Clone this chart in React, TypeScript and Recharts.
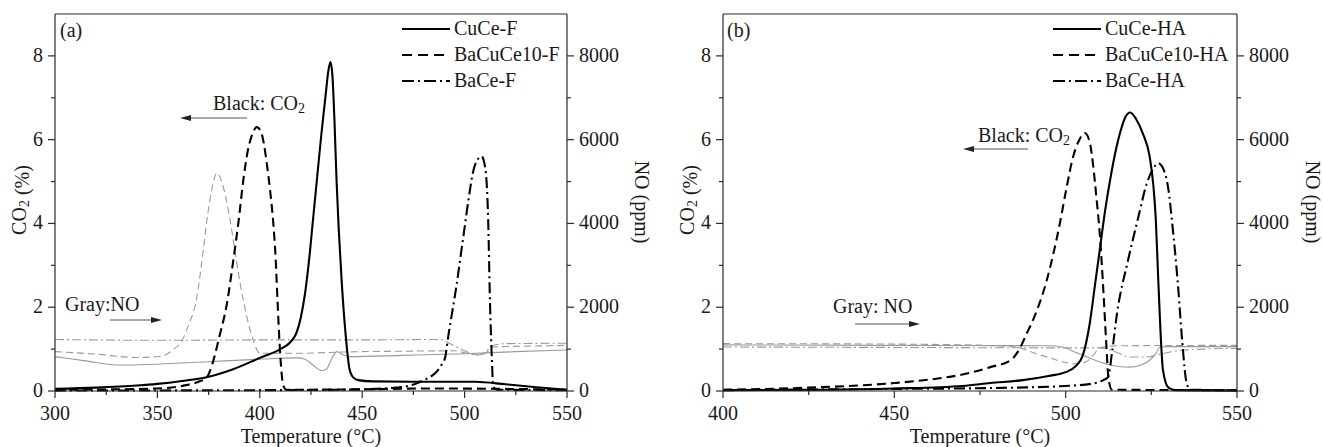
import React from "react";
import { LineChart, Line, XAxis, YAxis, ReferenceLine } from "recharts";

const FONT = '"Liberation Serif", "Times New Roman", serif';
const AXIS = "#2a2a2a";
const INK = "#1a1a1a";
const GRAY = "#9a9a9a";

// ticks
const tempTicksA = [300, 325, 350, 375, 400, 425, 450, 475, 500, 525, 550];
const tempLabelsA = [300, 350, 400, 450, 500, 550];
const tempTicksB = [400, 425, 450, 475, 500, 525, 550];
const tempLabelsB = [400, 450, 500, 550];
const co2Ticks = [0, 1, 2, 3, 4, 5, 6, 7, 8];
const co2Labels = [0, 2, 4, 6, 8];
const noTicks = [0, 1000, 2000, 3000, 4000, 5000, 6000, 7000, 8000];
const noLabels = [0, 2000, 4000, 6000, 8000];

const legendA = ["CuCe-F", "BaCuCe10-F", "BaCe-F"];
const legendB = ["CuCe-HA", "BaCuCe10-HA", "BaCe-HA"];

// (a) CO2 %, [temperature, value]
const cuceF_co2 = [[300,0.05],[320,0.08],[340,0.13],[350,0.17],[362,0.24],[374,0.33],[387,0.52],[400,0.79],[410,1.0],[415,1.17],[418,1.4],[420,1.75],[422,2.3],[424,3.1],[426,4.1],[428,5.1],[430,6.1],[432,7.0],[433.5,7.65],[434.5,7.85],[435.5,7.5],[436.5,6.4],[437.5,5.0],[438.5,3.9],[440,2.6],[442,1.3],[443.7,0.55],[445.5,0.33],[448,0.26],[455,0.23],[480,0.22],[505,0.22],[520,0.16],[535,0.09],[550,0.03]];
const bacuce10F_co2 = [[300,0.03],[330,0.04],[350,0.06],[364,0.14],[370,0.22],[374,0.32],[377,0.67],[380,1.25],[384,2.1],[387,3.1],[389.5,4.0],[392,5.05],[394,5.7],[396.5,6.15],[398.5,6.3],[400.5,6.2],[402,5.9],[403.5,5.4],[405,4.8],[406.6,4.0],[407.7,3.2],[408.7,2.1],[409.7,1.1],[410.6,0.45],[411.5,0.12],[413,0.03],[450,0.04],[480,0.06],[520,0.05],[550,0.03]];
const baceF_co2 = [[300,0.01],[400,0.02],[440,0.03],[460,0.06],[470,0.1],[476,0.17],[480,0.26],[484,0.36],[487,0.5],[489,0.65],[490.5,0.8],[492,1.3],[494,1.9],[496,2.5],[498,3.2],[500,3.9],[502,4.6],[504,5.2],[506,5.5],[508.3,5.6],[510,5.35],[511.5,4.1],[512.4,2.1],[513.3,0.8],[514,0.1],[516,0.03],[550,0.02]];

// (a) NO ppm
const cuceF_no = [[300,820],[315,720],[330,620],[350,640],[375,700],[400,760],[418,790],[422,760],[426,620],[430,490],[432.5,520],[435,760],[437.7,940],[440,880],[444,820],[470,850],[500,890],[525,940],[550,980]];
const bacuce10F_no = [[300,940],[320,880],[340,800],[352,830],[358,1000],[362,1200],[365,1550],[369,2170],[372,3200],[374.5,4200],[377,4900],[379,5200],[381,5050],[383.5,4600],[385.5,4080],[388,3300],[390.7,2490],[394,1700],[397,1180],[400,900],[420,900],[440,930],[470,950],[495,960],[502,890],[507,860],[511,930],[514,1050],[530,1070],[550,1090]];
const baceF_no = [[300,1230],[350,1210],[400,1220],[450,1220],[488,1230],[494,1100],[500,960],[506,860],[510,900],[513,1080],[520,1130],[550,1140]];

// (b) CO2 %
const cuceHA_co2 = [[400,0.02],[430,0.03],[450,0.06],[470,0.12],[478,0.19],[487.5,0.26],[495,0.36],[500,0.45],[503,0.6],[505,0.85],[507,1.6],[508.5,2.5],[510,3.4],[511.5,4.3],[513,5.05],[514.5,5.7],[516,6.2],[517.5,6.55],[518.8,6.65],[520.5,6.5],[522.5,6.15],[524.5,5.6],[525.6,4.9],[526.3,4.1],[527,2.7],[528.4,0.5],[530,0.08],[532,0.02],[550,0.01]];
const bacuce10HA_co2 = [[400,0.03],[425,0.08],[450,0.19],[460,0.27],[469,0.38],[478,0.57],[484,0.74],[486.7,1.03],[488.5,1.35],[490.5,1.7],[494.5,2.65],[498.3,4.0],[500.3,4.87],[502.2,5.6],[504,6.0],[505.6,6.16],[507,5.95],[508,5.4],[509,4.6],[510,3.7],[511,2.4],[511.8,1.2],[512.5,0.3],[513.5,0.03],[550,0.02]];
const baceHA_co2 = [[400,0.02],[450,0.05],[478,0.07],[500,0.12],[508,0.18],[511,0.26],[512.4,0.33],[513.5,0.9],[515,1.86],[518,3.05],[521,4.08],[523.7,4.96],[525.5,5.3],[527,5.44],[528.5,5.3],[530,4.8],[531,4.08],[532.8,2.5],[534,1.2],[535.3,0.19],[536.5,0.03],[550,0.02]];

// (b) NO ppm
const cuceHA_no = [[400,1100],[450,1090],[495,1080],[499,1050],[503,920],[507,790],[510,690],[513,620],[516,580],[519,570],[522,620],[524.6,740],[526.5,920],[527.5,1050],[530,1060],[550,1060]];
const bacuce10HA_no = [[400,1130],[450,1120],[480,1080],[486.7,1030],[491,900],[495.4,790],[499,700],[503,650],[506,700],[508,850],[510,1030],[515,1080],[550,1090]];
const baceHA_no = [[400,1050],[450,1040],[500,1030],[510,1030],[514,950],[519,810],[524,810],[527,870],[530.5,930],[540,1000],[550,1020]];

const blackDash = [undefined, "9 5", "11 4 2 4"];
const grayDash = [undefined, "7 4", "9 3 2 3"];

const toPts = (arr: number[][]) => arr.map(([t, v]) => ({ t, v }));

function makeTick(side: "bottom" | "left" | "right", labels: number[]) {
  return (props: any) => {
    const { x, y, payload } = props;
    const v = payload.value;
    const major = labels.includes(v);
    const len = major ? 7 : 4;
    const txt = { fontSize: 20, fontFamily: FONT, fill: INK };
    if (side === "bottom") {
      return (
        <g>
          <line x1={x} x2={x} y1={y} y2={y + len} stroke={AXIS} strokeWidth={1.2} />
          {major && <text x={x} y={y + 29} textAnchor="middle" {...txt}>{v}</text>}
        </g>
      );
    }
    const dir = side === "left" ? -1 : 1;
    return (
      <g>
        <line x1={x} x2={x + dir * len} y1={y} y2={y} stroke={AXIS} strokeWidth={1.2} />
        {major && (
          <text x={x + dir * 12} y={y + 6} textAnchor={side === "left" ? "end" : "start"} {...txt}>
            {v}
          </text>
        )}
      </g>
    );
  };
}

type PanelProps = {
  left: number;
  width: number;
  margin: { top: number; right: number; bottom: number; left: number };
  domain: [number, number];
  ticks: number[];
  labels: number[];
  co2: number[][][];
  no: number[][][];
};

function Panel({ left, width, margin, domain, ticks, labels, co2, no }: PanelProps) {
  return (
    <div style={{ position: "absolute", left, top: 0 }}>
      <LineChart width={width} height={447} margin={margin}>
        <XAxis
          dataKey="t"
          type="number"
          domain={domain}
          ticks={ticks}
          interval={0}
          height={30}
          tickSize={0}
          tickMargin={0}
          tickLine={false}
          axisLine={{ stroke: AXIS, strokeWidth: 1.2 }}
          tick={makeTick("bottom", labels)}
        />
        <YAxis
          yAxisId="co2"
          domain={[0, 9]}
          ticks={co2Ticks}
          interval={0}
          width={40}
          tickSize={0}
          tickMargin={0}
          tickLine={false}
          axisLine={{ stroke: AXIS, strokeWidth: 1.2 }}
          tick={makeTick("left", co2Labels)}
        />
        <YAxis
          yAxisId="no"
          orientation="right"
          domain={[0, 9000]}
          ticks={noTicks}
          interval={0}
          width={60}
          tickSize={0}
          tickMargin={0}
          tickLine={false}
          axisLine={{ stroke: AXIS, strokeWidth: 1.2 }}
          tick={makeTick("right", noLabels)}
        />
        <ReferenceLine y={9} yAxisId="co2" stroke={AXIS} strokeWidth={1.2} />
        {no.map((s, i) => (
          <Line
            key={`no-${i}`}
            data={toPts(s)}
            dataKey="v"
            yAxisId="no"
            type="monotone"
            stroke={GRAY}
            strokeWidth={1.1}
            strokeDasharray={grayDash[i]}
            dot={false}
            isAnimationActive={false}
          />
        ))}
        {co2.map((s, i) => (
          <Line
            key={`co2-${i}`}
            data={toPts(s)}
            dataKey="v"
            yAxisId="co2"
            type="monotone"
            stroke="#000"
            strokeWidth={2.1}
            strokeDasharray={blackDash[i]}
            dot={false}
            isAnimationActive={false}
          />
        ))}
      </LineChart>
    </div>
  );
}

const Sub = () => (
  <>
    <tspan fontSize={14} dy={3}>2</tspan>
    <tspan dy={-3}></tspan>
  </>
);

function LegendBox({ x, y, names }: { x: number; y: number; names: string[] }) {
  return (
    <g>
      {names.map((n, i) => (
        <g key={n}>
          <line
            x1={x}
            x2={x + 48}
            y1={y + i * 26 - 6}
            y2={y + i * 26 - 6}
            stroke="#000"
            strokeWidth={2}
            strokeDasharray={i === 0 ? undefined : i === 1 ? "10 6" : "12 4 2 4"}
          />
          <text x={x + 52} y={y + i * 26} fontSize={20} fontFamily={FONT} fill={INK}>
            {n}
          </text>
        </g>
      ))}
    </g>
  );
}

function Arrow({ x1, x2, y }: { x1: number; x2: number; y: number }) {
  const d = x2 > x1 ? 1 : -1;
  return (
    <g>
      <line x1={x1} x2={x2 - d * 6} y1={y} y2={y} stroke="#555" strokeWidth={1} />
      <polygon points={`${x2},${y} ${x2 - d * 11},${y - 3} ${x2 - d * 11},${y + 3}`} fill="#222" />
    </g>
  );
}

export default function App() {
  const t = { fontFamily: FONT, fontSize: 20, fill: INK };
  return (
    <div style={{ position: "absolute", left: 0, top: 0, width: 1323, height: 447, background: "#fff" }}>
      <Panel
        left={0}
        width={660}
        margin={{ top: 14, right: 33, bottom: 26, left: 15 }}
        domain={[300, 550]}
        ticks={tempTicksA}
        labels={tempLabelsA}
        co2={[cuceF_co2, bacuce10F_co2, baceF_co2]}
        no={[cuceF_no, bacuce10F_no, baceF_no]}
      />
      <Panel
        left={660}
        width={663}
        margin={{ top: 14, right: 26, bottom: 26, left: 23 }}
        domain={[400, 550]}
        ticks={tempTicksB}
        labels={tempLabelsB}
        co2={[cuceHA_co2, bacuce10HA_co2, baceHA_co2]}
        no={[cuceHA_no, bacuce10HA_no, baceHA_no]}
      />
      <svg width={1323} height={447} style={{ position: "absolute", left: 0, top: 0, pointerEvents: "none" }}>
        {/* panel (a) */}
        <text x={60} y={37} {...t}>(a)</text>
        <LegendBox x={402} y={35} names={legendA} />
        <text x={213} y={110} {...t}>Black: CO<Sub /></text>
        <Arrow x1={247} x2={180} y={118} />
        <text x={65} y={311} {...t}>Gray:NO</text>
        <Arrow x1={110} x2={162} y={320} />
        <text x={311} y={443} textAnchor="middle" {...t}>Temperature (°C)</text>
        <text transform="translate(26,200) rotate(-90)" textAnchor="middle" {...t}>CO<Sub /> (%)</text>
        <text transform="translate(635,202) rotate(90)" textAnchor="middle" {...t}>NO (ppm)</text>

        {/* panel (b) */}
        <text x={727} y={37} {...t}>(b)</text>
        <LegendBox x={1053} y={35} names={legendB} />
        <text x={978} y={142} {...t}>Black: CO<Sub /></text>
        <Arrow x1={1028} x2={963} y={149} />
        <text x={833} y={313} {...t}>Gray: NO</text>
        <Arrow x1={855} x2={920} y={324} />
        <text x={980} y={443} textAnchor="middle" {...t}>Temperature (°C)</text>
        <text transform="translate(694,200) rotate(-90)" textAnchor="middle" {...t}>CO<Sub /> (%)</text>
        <text transform="translate(1306,202) rotate(90)" textAnchor="middle" {...t}>NO (ppm)</text>
      </svg>
    </div>
  );
}
